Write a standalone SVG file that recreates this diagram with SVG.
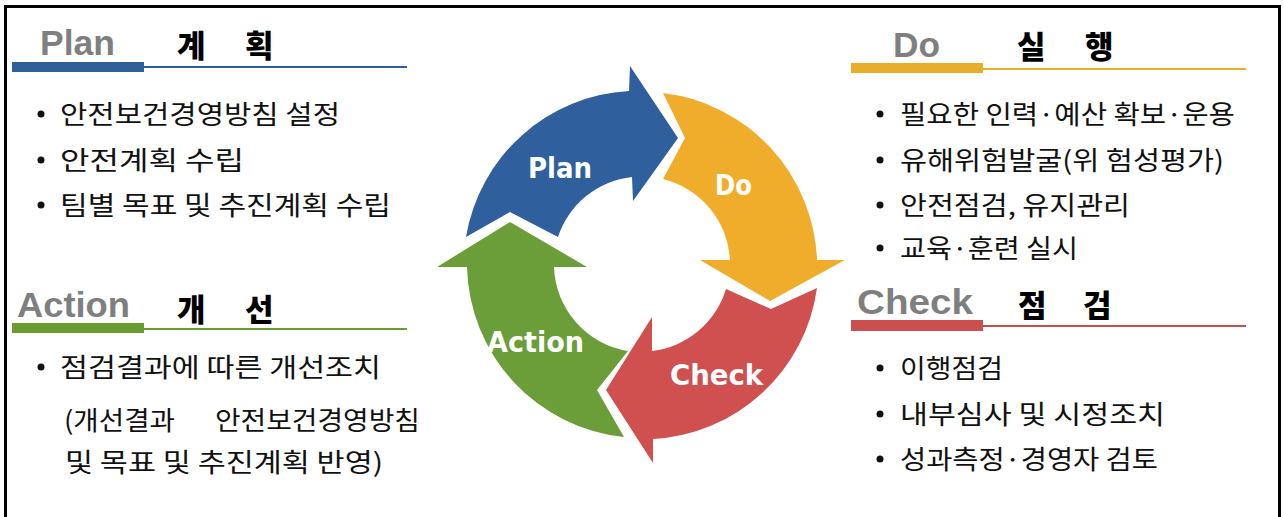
<svg xmlns="http://www.w3.org/2000/svg" width="1284" height="517" viewBox="0 0 1284 517">
<style>
.hdr{font-family:"Liberation Sans",Arial,sans-serif;font-weight:700;fill:#7f7f7f;font-size:35px}
.kh{font-family:"Noto Sans CJK KR","Noto Sans",sans-serif;font-weight:900;fill:#000;font-size:31px}
.it{font-family:"Noto Sans CJK KR","Noto Sans",sans-serif;fill:#111;font-size:26px}
.lbl{font-family:"DejaVu Sans Condensed","DejaVu Sans",sans-serif;font-weight:700;font-stretch:condensed;fill:#fff;font-size:28px}
.dot{fill:#111}
</style>
<rect x="0" y="0" width="1284" height="517" fill="#fff"/>
<rect x="5.5" y="6.5" width="1274" height="530" fill="none" stroke="#000" stroke-width="3"/>

<g id="cycle">
  <path id="arrow-plan" fill="#2f5f9c" d="M466,237 A175,175 0 0 1 629,91 L630,66 L678,138 L633,201 L632,177 A88,88 0 0 0 558,237 L510,212 Z"/>
  <path id="arrow-do" fill="#efad2b" d="M663,93 A175,175 0 0 1 817,260 L845,260 L770,301 L700,260 L730,260 A88,88 0 0 0 663,179 L685,138 Z"/>
  <path id="arrow-check" fill="#d0504f" d="M817,288 A175,175 0 0 1 653,439 L653,463 L606,390 L652,317 L652,351 A88,88 0 0 0 726,289 L771,309 Z"/>
  <path id="arrow-action" fill="#6b9e38" d="M624,437 A175,175 0 0 1 467,267 L437,267 L510,222 L587,267 L554,267 A88,88 0 0 0 628,351 L597,390 Z"/>
  <text class="lbl" x="528" y="178" textLength="64" lengthAdjust="spacingAndGlyphs">Plan</text>
  <text class="lbl" x="715" y="195" textLength="37" lengthAdjust="spacingAndGlyphs">Do</text>
  <text class="lbl" x="487" y="352" textLength="97" lengthAdjust="spacingAndGlyphs">Action</text>
  <text class="lbl" x="670" y="385" textLength="93" lengthAdjust="spacingAndGlyphs">Check</text>
</g>

<g id="plan">
  <text class="hdr" x="40" y="55" textLength="75" lengthAdjust="spacingAndGlyphs">Plan</text>
  <text class="kh" x="177 207 245" y="43" dominant-baseline="central">계 획</text>
  <rect x="12" y="62" width="132" height="10" fill="#2f5f97"/>
  <rect x="144" y="66" width="263" height="2" fill="#2f5f97"/>
  <circle class="dot" cx="41" cy="114" r="3.5"/>
  <circle class="dot" cx="41" cy="160" r="3.5"/>
  <circle class="dot" cx="41" cy="205" r="3.5"/>
  <text class="it" x="60" y="112" dominant-baseline="central" textLength="280" lengthAdjust="spacingAndGlyphs">안전보건경영방침 설정</text>
  <text class="it" x="60" y="158" dominant-baseline="central" textLength="184" lengthAdjust="spacingAndGlyphs">안전계획 수립</text>
  <text class="it" x="60" y="203" dominant-baseline="central" textLength="331" lengthAdjust="spacingAndGlyphs">팀별 목표 및 추진계획 수립</text>
</g>

<g id="do">
  <text class="hdr" x="893" y="57" textLength="47" lengthAdjust="spacingAndGlyphs">Do</text>
  <text class="kh" x="1017 1047 1085" y="44" dominant-baseline="central">실 행</text>
  <rect x="851" y="63" width="132" height="10" fill="#e9ad2c"/>
  <rect x="983" y="68" width="263" height="2" fill="#e9ad2c"/>
  <circle class="dot" cx="880" cy="114" r="3.5"/>
  <circle class="dot" cx="880" cy="160" r="3.5"/>
  <circle class="dot" cx="880" cy="205" r="3.5"/>
  <circle class="dot" cx="880" cy="248" r="3.5"/>
  <text class="it" x="900" y="112" dominant-baseline="central" textLength="335" lengthAdjust="spacingAndGlyphs">필요한 인력·예산 확보·운용</text>
  <text class="it" x="900" y="158" dominant-baseline="central" textLength="324" lengthAdjust="spacingAndGlyphs">유해위험발굴(위 험성평가)</text>
  <text class="it" x="900" y="203" dominant-baseline="central" textLength="230" lengthAdjust="spacingAndGlyphs">안전점검, 유지관리</text>
  <text class="it" x="900" y="246" dominant-baseline="central" textLength="178" lengthAdjust="spacingAndGlyphs">교육·훈련 실시</text>
</g>

<g id="action">
  <text class="hdr" x="17" y="317" textLength="113" lengthAdjust="spacingAndGlyphs">Action</text>
  <text class="kh" x="177 207 245" y="307" dominant-baseline="central">개 선</text>
  <rect x="12" y="323" width="132" height="10" fill="#6a9c34"/>
  <rect x="144" y="328" width="263" height="2" fill="#6a9c34"/>
  <circle class="dot" cx="41" cy="367" r="3.5"/>
  <text class="it" x="60" y="365" dominant-baseline="central" textLength="321" lengthAdjust="spacingAndGlyphs">점검결과에 따른 개선조치</text>
  <text class="it" y="418" dominant-baseline="central"><tspan x="64" textLength="111" lengthAdjust="spacingAndGlyphs">(개선결과</tspan><tspan x="215" textLength="205" lengthAdjust="spacingAndGlyphs">안전보건경영방침</tspan></text>
  <text class="it" x="65" y="460" dominant-baseline="central" textLength="318" lengthAdjust="spacingAndGlyphs">및 목표 및 추진계획 반영)</text>
</g>

<g id="check">
  <text class="hdr" x="857" y="314" textLength="116" lengthAdjust="spacingAndGlyphs">Check</text>
  <text class="kh" x="1018 1050 1083" y="303" dominant-baseline="central">점 검</text>
  <rect x="851" y="320" width="132" height="11" fill="#c9504f"/>
  <rect x="983" y="325" width="263" height="2" fill="#c9504f"/>
  <circle class="dot" cx="880" cy="368" r="3.5"/>
  <circle class="dot" cx="880" cy="414" r="3.5"/>
  <circle class="dot" cx="880" cy="459" r="3.5"/>
  <text class="it" x="900" y="366" dominant-baseline="central" textLength="103" lengthAdjust="spacingAndGlyphs">이행점검</text>
  <text class="it" x="900" y="412" dominant-baseline="central" textLength="265" lengthAdjust="spacingAndGlyphs">내부심사 및 시정조치</text>
  <text class="it" x="900" y="457" dominant-baseline="central" textLength="258" lengthAdjust="spacingAndGlyphs">성과측정·경영자 검토</text>
</g>
</svg>
